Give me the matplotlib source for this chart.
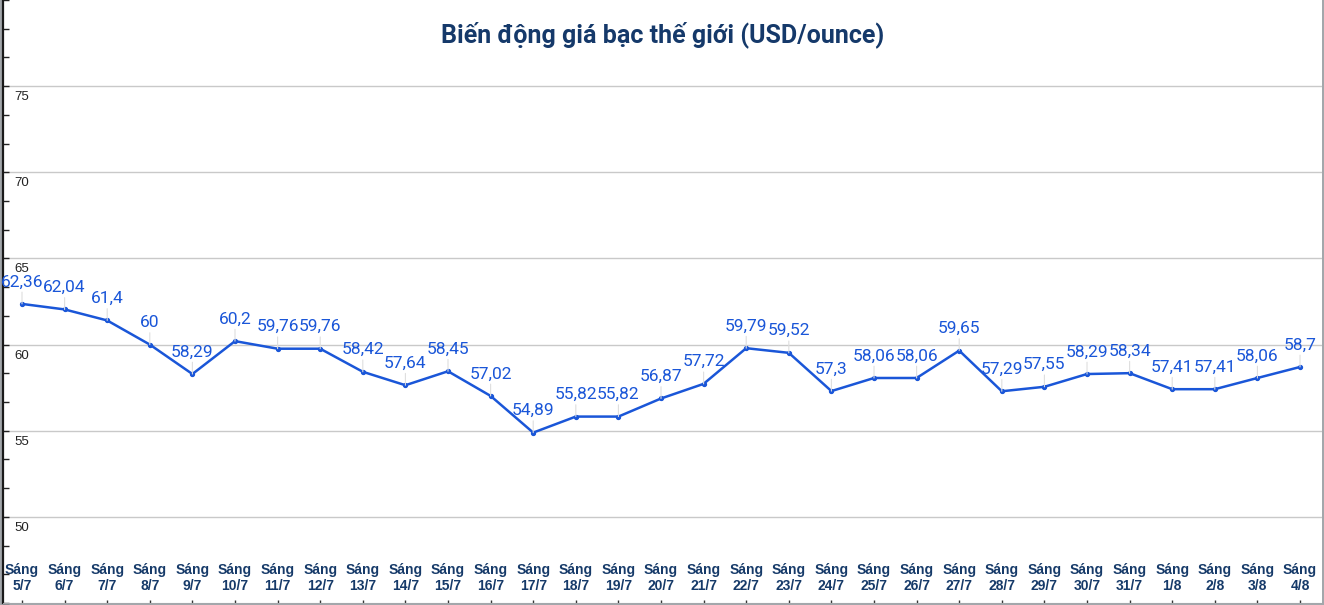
import matplotlib
matplotlib.use("Agg")
import matplotlib.pyplot as plt
import matplotlib.transforms as mtransforms
from matplotlib.ticker import MultipleLocator

title = "Biến động giá bạc thế giới (USD/ounce)"
days = ["5/7", "6/7", "7/7", "8/7", "9/7", "10/7", "11/7", "12/7", "13/7", "14/7",
        "15/7", "16/7", "17/7", "18/7", "19/7", "20/7", "21/7", "22/7", "23/7", "24/7",
        "25/7", "26/7", "27/7", "28/7", "29/7", "30/7", "31/7", "1/8", "2/8", "3/8", "4/8"]
prices = [62.36, 62.04, 61.4, 60, 58.29, 60.2, 59.76, 59.76, 58.42, 57.64,
          58.45, 57.02, 54.89, 55.82, 55.82, 56.87, 57.72, 59.79, 59.52, 57.3,
          58.06, 58.06, 59.65, 57.29, 57.55, 58.29, 58.34, 57.41, 57.41, 58.06, 58.7]
grid_values = [50, 55, 60, 65, 70, 75]

W, H = 1324, 605
fig = plt.figure(figsize=(W / 100, H / 100), dpi=100)
fig.patch.set_facecolor("white")
fig.patch.set_edgecolor("#a3a7ab")
fig.patch.set_linewidth(2.5)

ax = fig.add_axes([3 / W, 2 / H, 1319 / W, 603 / H])
ax.set_facecolor("white")

x = list(range(len(prices)))
line_color = "#1a56d8"
ax.plot(x, prices, color=line_color, lw=1.8, marker="o", ms=2.8, zorder=3)

# data labels with thin leader lines
for xi, v in zip(x, prices):
    txt = f"{v:g}".replace(".", ",")
    ax.annotate(txt, (xi, v), xytext=(0, 10.5), textcoords="offset points",
                ha="center", va="bottom", color=line_color, fontsize=12.5,
                family="Roboto",
                arrowprops=dict(arrowstyle="-", color="#dedede", lw=0.8,
                                shrinkA=0, shrinkB=0))

ax.set_xlim(-0.446, 30.516)
ax.set_ylim(45, 80)

for g in grid_values:
    ax.axhline(g, color="#c9c9c9", lw=1, zorder=1)

# y labels sit inside the plot just below each gridline
offset = mtransforms.ScaledTranslation(11 / 100, -5 / 100, fig.dpi_scale_trans)
trans = mtransforms.blended_transform_factory(ax.transAxes, ax.transData) + offset
for g in grid_values:
    ax.text(0, g, str(g), transform=trans, ha="left", va="top", fontsize=9.5,
            family="Liberation Sans", color="#222222")

ax.yaxis.set_major_locator(MultipleLocator(5))
ax.yaxis.set_minor_locator(MultipleLocator(5 / 3))
ax.tick_params(axis="y", which="both", direction="in", length=4, width=1,
               color="#222222", labelleft=False)

ax.set_xticks(x)
ax.set_xticklabels([f"Sáng\n{d}" for d in days])
ax.tick_params(axis="x", direction="in", length=2, width=1, color="#333333",
               pad=-29)
for t in ax.get_xticklabels():
    t.set_fontfamily("Liberation Sans")
    t.set_fontweight("bold")
    t.set_fontsize(10)
    t.set_color("#163a69")
    t.set_va("top")

for s in ["top", "right"]:
    ax.spines[s].set_visible(False)
ax.spines["bottom"].set_color("#a3a7ab")
ax.spines["left"].set_color("#1a1a1a")
ax.spines["left"].set_linewidth(1.6)

ax.text(0.5, 0.943, title, transform=ax.transAxes, ha="center", va="center",
        fontsize=18, fontweight="bold", family="Roboto", color="#15396a")

fig.savefig("out.png", dpi=100, facecolor=fig.get_facecolor(),
            edgecolor=fig.get_edgecolor())
